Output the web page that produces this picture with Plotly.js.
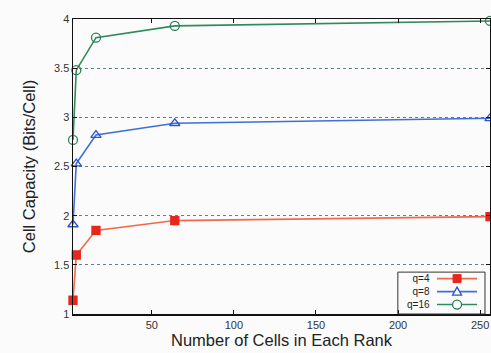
<!DOCTYPE html>
<html><head><meta charset="utf-8">
<script src="https://cdn.plot.ly/plotly-3.0.1.min.js"></script>
<style>html,body{margin:0;padding:0;overflow:hidden;background:#fbfbfc}</style>
</head><body><div id="chart" style="width:491px;height:353px"></div>
<script>
const cells = [2, 4, 16, 64, 256];
const q4 = [1.14, 1.60, 1.85, 1.95, 1.99];
const q8 = [1.91, 2.53, 2.82, 2.94, 2.99];
const q16 = [2.77, 3.48, 3.81, 3.93, 3.98];
const seriesNames = ['q=4', 'q=8', 'q=16'];
const xTicks = [50, 100, 150, 200, 250];
const yTicks = [1, 1.5, 2, 2.5, 3, 3.5, 4];

const styles = [
  {line: '#f0694a', sym: 'square', mc: '#e8261c', fill: '#e8261c'},
  {line: '#3f6fd8', sym: 'triangle-up-open', mc: '#2a55cc', fill: '#2a55cc'},
  {line: '#2f8a5c', sym: 'circle-open', mc: '#2a8058', fill: '#2a8058'}
];
const series = [q4, q8, q16];
const data = series.map((y, i) => ({
  x: cells, y: y, type: 'scatter', mode: 'lines+markers', name: seriesNames[i],
  cliponaxis: false, showlegend: false,
  line: {color: styles[i].line, width: 1.6},
  marker: {symbol: styles[i].sym, size: styles[i].sym === 'square' ? 8 : 9,
           color: styles[i].fill, line: {color: styles[i].mc, width: 1.3}}
}));
const font = {family: 'Liberation Sans, Arial, sans-serif', size: 11, color: '#333'};
const ax = {
  showline: true, linecolor: '#111', linewidth: 1.5, mirror: 'allticks',
  ticks: 'inside', ticklen: 4, tickcolor: '#111', tickwidth: 1,
  zeroline: false, tickfont: font
};
// legend drawn as decoration (paper coordinates)
const rowY = [0.120, 0.076, 0.032];
const shapes = [{type: 'rect', xref: 'paper', yref: 'paper', x0: 0.779, x1: 0.988, y0: 0.0, y1: 0.142,
  line: {color: '#333', width: 1}, fillcolor: 'rgba(0,0,0,0)'}];
rowY.forEach((yy, i) => {
  const s = styles[i];
  shapes.push({type: 'line', xref: 'paper', yref: 'paper', x0: 0.873, x1: 0.969, y0: yy, y1: yy,
    line: {color: s.line, width: 1.6}});
  const base = {xref: 'paper', yref: 'paper', xsizemode: 'pixel', ysizemode: 'pixel', xanchor: 0.921, yanchor: yy};
  if (i === 0) shapes.push(Object.assign({}, base, {type: 'rect', x0: -4, x1: 4, y0: -4, y1: 4,
    fillcolor: s.fill, line: {color: s.mc, width: 1}}));
  if (i === 1) shapes.push(Object.assign({}, base, {type: 'path', path: 'M -4.5 -3.5 L 4.5 -3.5 L 0 4.5 Z',
    fillcolor: '#fbfbfc', line: {color: s.mc, width: 1.3}}));
  if (i === 2) shapes.push(Object.assign({}, base, {type: 'circle', x0: -4.5, x1: 4.5, y0: -4.5, y1: 4.5,
    fillcolor: '#fbfbfc', line: {color: s.mc, width: 1.3}}));
});
const layout = {
  width: 491, height: 353,
  margin: {l: 73, r: 1, t: 19, b: 39},
  paper_bgcolor: '#fbfbfc', plot_bgcolor: '#fbfbfc',
  showlegend: false,
  xaxis: Object.assign({}, ax, {range: [2, 256], tickvals: xTicks, ticktext: xTicks.map(String),
    showgrid: false,
    title: {text: 'Number of Cells in Each Rank', font: {family: font.family, size: 16.5, color: '#222'}, standoff: 4}}),
  yaxis: Object.assign({}, ax, {range: [1, 4], tickvals: yTicks, ticktext: yTicks.map(String),
    showgrid: true, gridcolor: '#5f7f96', griddash: 'dot', gridwidth: 1,
    title: {text: 'Cell Capacity (Bits/Cell)', font: {family: font.family, size: 16.5, color: '#222'}, standoff: 14}}),
  annotations: [{
    xref: 'paper', yref: 'paper', x: 0.858, y: rowY[1], xanchor: 'right', yanchor: 'middle', align: 'right',
    text: seriesNames.join('<br>'), showarrow: false, borderpad: 0,
    font: {family: font.family, size: 10, color: '#222'}
  }],
  shapes: shapes
};
Plotly.newPlot('chart', data, layout, {staticPlot: true});
</script></body></html>
